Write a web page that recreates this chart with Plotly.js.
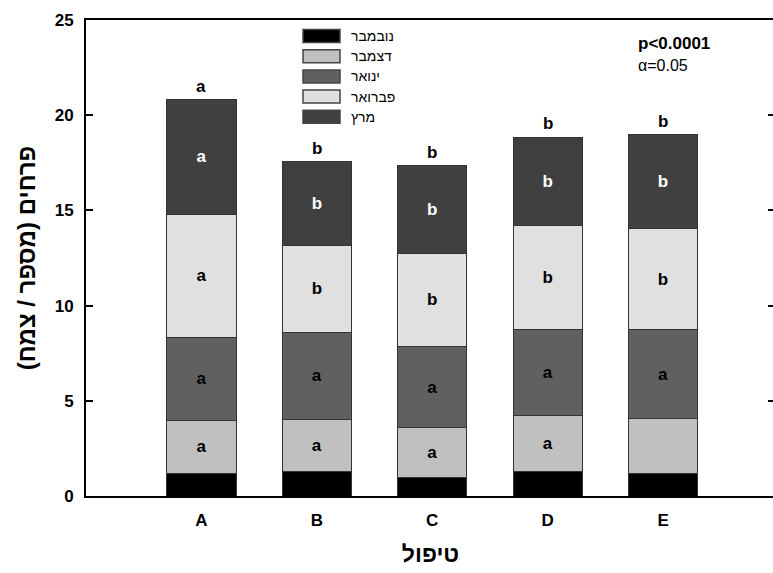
<!DOCTYPE html>
<html>
<head>
<meta charset="utf-8">
<script src="https://cdn.plot.ly/plotly-3.0.1.min.js"></script>
<style>html,body{margin:0;padding:0;overflow:hidden;background:#fff;}#chart{width:776px;height:573px;}</style>
</head>
<body>
<div id="chart"></div>
<script>
// ---- data ----
const categories = ['A', 'B', 'C', 'D', 'E'];
const seriesNames = ['נובמבר', 'דצמבר', 'ינואר', 'פברואר', 'מרץ'];
const novValues = [1.19, 1.28, 0.98, 1.28, 1.19];
const decValues = [2.80, 2.76, 2.62, 2.94, 2.89];
const janValues = [4.32, 4.56, 4.24, 4.50, 4.64];
const febValues = [6.50, 4.55, 4.91, 5.51, 5.34];
const marValues = [5.99, 4.41, 4.60, 4.61, 4.92];
const novLetters = ['', '', '', '', ''];
const decLetters = ['a', 'a', 'a', 'a', ''];
const janLetters = ['a', 'a', 'a', 'a', 'a'];
const febLetters = ['a', 'b', 'b', 'b', 'b'];
const marLetters = ['a', 'b', 'b', 'b', 'b'];
const totalLetters = ['a', 'b', 'b', 'b', 'b'];
const yTickValues = [0, 5, 10, 15, 20, 25];
const statLines = ['p<0.0001', 'α=0.05'];

// ---- styles ----
const FONT = 'Liberation Sans, Arial, sans-serif';
const fills = ['#000000', '#c0c0c0', '#606060', '#e0e0e0', '#404040'];
const letterColors = ['#000000', '#000000', '#000000', '#000000', '#ffffff'];
const seriesValues = [novValues, decValues, janValues, febValues, marValues];
const seriesLetters = [novLetters, decLetters, janLetters, febLetters, marLetters];

const traces = seriesValues.map((vals, i) => ({
  type: 'bar',
  name: seriesNames[i],
  x: categories,
  y: vals,
  width: 0.6,
  text: seriesLetters[i],
  textposition: 'inside',
  insidetextanchor: 'middle',
  textangle: 0,
  constraintext: 'none',
  textfont: {family: FONT, size: 17, color: letterColors[i], weight: 'bold'},
  marker: {color: fills[i], line: {color: '#333333', width: 1}},
  showlegend: false,
  hoverinfo: 'x+y+name'
}));

const totals = categories.map((c, j) => seriesValues.reduce((s, v) => s + v[j], 0));

// plot area pixel geometry (for placing legend in paper coords)
const L = 86, T = 20, W = 776 - 86 - 1, H = 573 - 20 - 77;
const px = x => (x - L) / W;
const py = y => (T + H - y) / H;

const shapes = [];
const annotations = [];
seriesNames.forEach((nm, i) => {
  const cy = 36 + 20.2 * i;
  shapes.push({type: 'rect', xref: 'paper', yref: 'paper',
    x0: px(303), x1: px(340), y0: py(cy + 6.5), y1: py(cy - 6.5),
    fillcolor: fills[i], line: {color: '#444444', width: 1.5}});
  annotations.push({xref: 'paper', yref: 'paper', x: px(349), y: py(cy),
    xanchor: 'left', yanchor: 'middle', showarrow: false, text: nm,
    font: {family: FONT, size: 14, color: '#000'}});
});
categories.forEach((c, j) => {
  annotations.push({x: c, y: totals[j], xref: 'x', yref: 'y', yanchor: 'bottom',
    yshift: 2, showarrow: false, text: totalLetters[j],
    font: {family: FONT, size: 17, color: '#000', weight: 'bold'}});
});
annotations.push({xref: 'paper', yref: 'paper', x: px(636), y: py(43), xanchor: 'left', yanchor: 'middle',
  showarrow: false, text: statLines[0], font: {family: FONT, size: 17, color: '#000', weight: 'bold'}});
annotations.push({xref: 'paper', yref: 'paper', x: px(636), y: py(65), xanchor: 'left', yanchor: 'middle',
  showarrow: false, text: statLines[1], font: {family: FONT, size: 16, color: '#000'}});

const layout = {
  width: 776, height: 573,
  margin: {l: 86, r: 1, t: 20, b: 77},
  paper_bgcolor: '#ffffff', plot_bgcolor: '#ffffff',
  barmode: 'stack',
  showlegend: false,
  font: {family: FONT, color: '#000'},
  xaxis: {
    type: 'category', range: [-1.0, 4.97],
    showgrid: false, zeroline: false,
    showline: true, linecolor: '#000', linewidth: 2, mirror: true,
    ticks: '', ticklabelstandoff: 8,
    tickfont: {family: FONT, size: 17, color: '#000', weight: 'bold'},
    title: {text: 'טיפול', font: {family: FONT, size: 23, color: '#000', weight: 'bold'}, standoff: 16}
  },
  yaxis: {
    range: [0, 25], tickvals: yTickValues, ticktext: yTickValues.map(String),
    showgrid: false, zeroline: false,
    showline: true, linecolor: '#000', linewidth: 2, mirror: 'ticks',
    ticks: 'inside', ticklen: 7, tickwidth: 2, tickcolor: '#000',
    ticklabelstandoff: 7,
    tickfont: {family: FONT, size: 17, color: '#000', weight: 'bold'},
    title: {text: 'פרחים (מספר / צמח)', font: {family: FONT, size: 24, color: '#000', weight: 'bold'}, standoff: 12}
  },
  shapes: shapes,
  annotations: annotations
};

Plotly.newPlot('chart', traces, layout, {displayModeBar: false, staticPlot: true});
</script>
</body>
</html>
